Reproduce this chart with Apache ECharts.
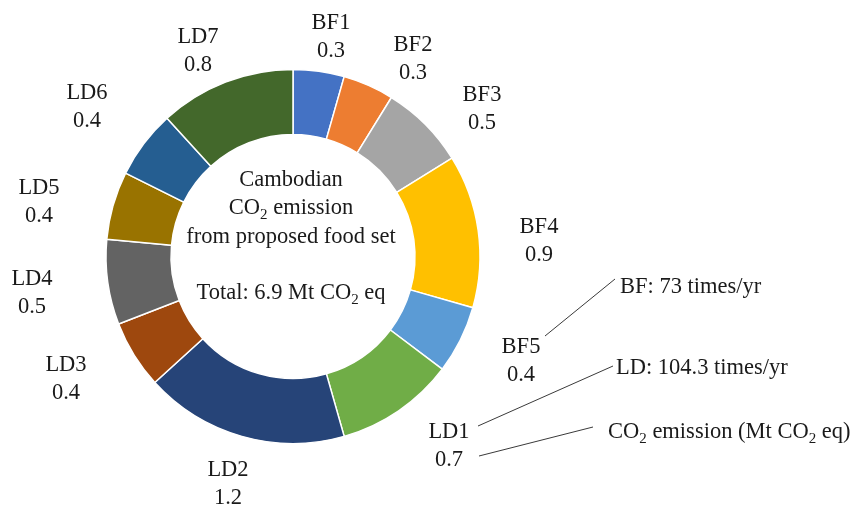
<!DOCTYPE html>
<html>
<head>
<meta charset="utf-8">
<script src="https://cdn.jsdelivr.net/npm/echarts@6/dist/echarts.min.js"></script>
<style>
  html, body { margin: 0; padding: 0; background: #ffffff; }
  #chart { width: 852px; height: 507px; }
</style>
</head>
<body>
<div id="chart"></div>
<script>
// Food items (BF = breakfast, LD = lunch/dinner) and their CO2 emission in Mt CO2 eq
const categories = ['BF1', 'BF2', 'BF3', 'BF4', 'BF5', 'LD1', 'LD2', 'LD3', 'LD4', 'LD5', 'LD6', 'LD7'];
const emissions = [0.3, 0.3, 0.5, 0.9, 0.4, 0.7, 1.2, 0.4, 0.5, 0.4, 0.4, 0.8];

// Text shown in the hole and the side notes
const centerLines = ['Cambodian', 'CO{sub|2} emission', 'from proposed food set'];
const totalLine = 'Total: 6.9 Mt CO{sub|2} eq';
const frequencyNotes = ['BF: 73 times/yr', 'LD: 104.3 times/yr'];
const unitNote = 'CO{sub|2} emission (Mt CO{sub|2} eq)';

// Styling
const sliceColors = ['#4472C4', '#ED7D31', '#A5A5A5', '#FFC000', '#5B9BD5', '#70AD47',
                     '#264478', '#9E480E', '#636363', '#997300', '#255E91', '#43682B'];
const FONT = '"Liberation Serif", "DejaVu Serif", serif';
const FS = 22.5;
const TEXT_COLOR = '#1a1a1a';
const PIE_CENTER = [293, 256.5];

// Centre point of each two-line slice label
const labelAnchors = [
  [331, 37.5], [413, 59.5], [482, 109], [539, 241.5], [521, 361.5], [449, 446],
  [228, 484], [66, 379.5], [32, 293], [39, 202.5], [87, 107.5], [198, 51.5]
];

const subRich = {
  sub: { fontFamily: FONT, fontSize: 15, lineHeight: 16, verticalAlign: 'bottom', fill: TEXT_COLOR, color: TEXT_COLOR }
};

function textEl(text, x, y, align) {
  return {
    type: 'text',
    silent: true,
    style: {
      text: text,
      x: x,
      y: y,
      align: align,
      verticalAlign: 'middle',
      font: FS + 'px ' + FONT,
      fill: TEXT_COLOR,
      lineHeight: 28.5,
      rich: subRich
    }
  };
}

function lineEl(x1, y1, x2, y2) {
  return {
    type: 'line',
    silent: true,
    shape: { x1: x1, y1: y1, x2: x2, y2: y2 },
    style: { stroke: '#3a3a3a', lineWidth: 1 }
  };
}

const chart = echarts.init(document.getElementById('chart'), null, { renderer: 'canvas' });

chart.setOption({
  animation: false,
  backgroundColor: '#ffffff',
  series: [{
    type: 'pie',
    radius: [122, 187],
    center: PIE_CENTER,
    startAngle: 90,
    clockwise: true,
    avoidLabelOverlap: false,
    silent: true,
    itemStyle: { borderColor: '#ffffff', borderWidth: 1.5 },
    label: {
      show: true,
      position: 'outside',
      formatter: function (p) { return p.name + '\n' + p.value.toFixed(1); },
      fontFamily: FONT,
      fontSize: FS,
      lineHeight: 28,
      color: TEXT_COLOR,
      align: 'center'
    },
    labelLine: { show: false },
    labelLayout: function (p) {
      const a = labelAnchors[p.dataIndex];
      return { x: a[0], y: a[1], align: 'center', verticalAlign: 'middle' };
    },
    data: categories.map(function (c, i) {
      return { name: c, value: emissions[i], itemStyle: { color: sliceColors[i] } };
    })
  }],
  graphic: [
    textEl(centerLines.join('\n'), 291, 208.5, 'center'),
    textEl(totalLine, 291, 293, 'center'),
    lineEl(545, 336, 615, 279),
    lineEl(478, 426, 613, 366),
    lineEl(479, 456, 593, 427),
    textEl(frequencyNotes[0], 620, 287, 'left'),
    textEl(frequencyNotes[1], 616, 368, 'left'),
    textEl(unitNote, 608, 432, 'left')
  ]
});
</script>
</body>
</html>
